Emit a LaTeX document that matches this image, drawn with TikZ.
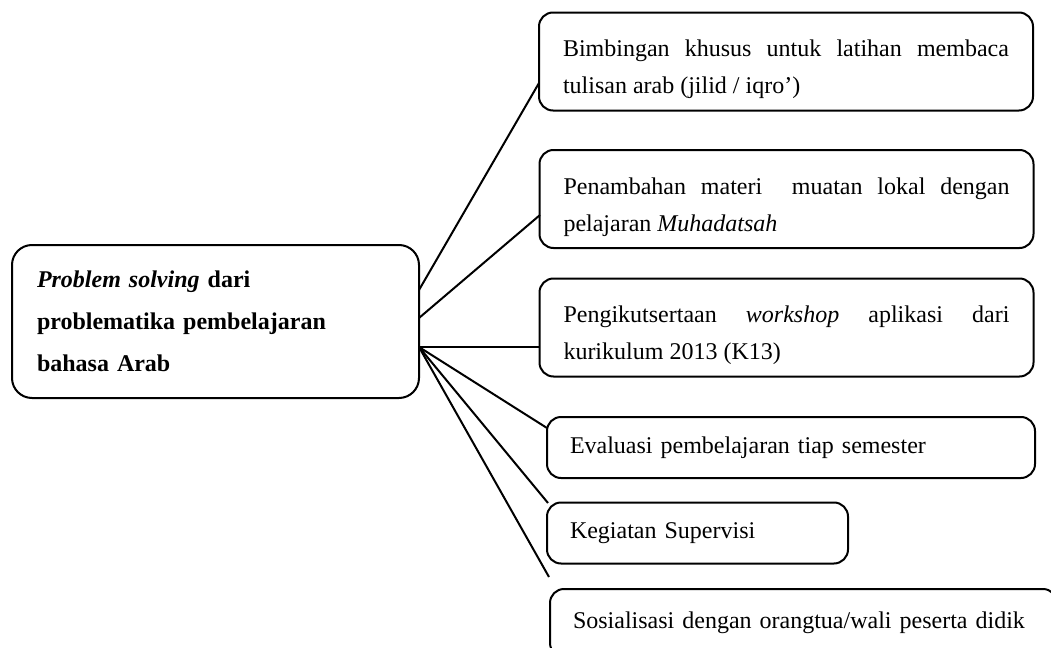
\documentclass[tikz,border=0pt]{standalone}
\usepackage{fontspec}
\setmainfont{Liberation Serif}
\hyphenpenalty=10000
\exhyphenpenalty=10000

\begin{document}
\begin{tikzpicture}[-,x=0.5pt,y=-0.5pt,
  point/.style={coordinate},
  root/.style={draw, line width=1pt, rounded corners=10pt, rectangle, minimum width=203.5pt, minimum height=76.5pt, text width=178.5pt, align=left, font=\fontsize{12}{21}\selectfont\bfseries},
  block/.style={draw, line width=1pt, rounded corners=7pt, rectangle, minimum width=247pt, minimum height=49pt, text width=223pt, align=justify, font=\fontsize{12}{18.5}\selectfont, execute at begin node={\rule{0pt}{16.5pt}}},
  short/.style={draw, line width=1pt, rounded corners=7pt, rectangle, minimum height=30.5pt, align=left, font=\fontsize{12}{18.5}\selectfont},
  every path/.style={line width=1pt}]
\useasboundingbox (0,0) rectangle (1051,648);
\node[root] (0) at (215.5,321.5) {\textit{Problem solving} dari\\problematika pembelajaran\\bahasa Arab};
\node[block] (1) at (786,61.5) {Bimbingan khusus untuk latihan membaca tulisan arab (jilid / iqro’)};
\node[block] (2) at (786.5,199) {Penambahan materi~ muatan lokal dengan pelajaran \textit{Muhadatsah}};
\node[block] (3) at (786.5,327.5) {Pengikutsertaan \textit{workshop} aplikasi dari kurikulum 2013 (K13)};
\node[short, minimum width=244pt, text width=221pt] (4) at (791,447.5) {Evaluasi pembelajaran tiap semester};
\node[short, minimum width=150.5pt, text width=127.5pt] (5) at (697.5,533) {Kegiatan Supervisi};
\node[short, minimum width=253.5pt, minimum height=34pt, text width=230.5pt, anchor=north west] (6) at (549,588) {Sosialisasi dengan orangtua/wali peserta didik};
\node[point] (7) at (419,290) {};
\node[point] (8) at (419,318) {};
\node[point] (9) at (419,347) {};
\node[point] (10) at (539,83) {};
\node[point] (11) at (540,215) {};
\node[point] (12) at (540,347) {};
\node[point] (13) at (547,428) {};
\node[point] (14) at (548,503) {};
\node[point] (15) at (549,577) {};
\draw   (7) -- (10);
\draw   (8) -- (11);
\draw   (9) -- (12);
\draw   (9) -- (13);
\draw   (9) -- (14);
\draw   (9) -- (15);
\end{tikzpicture}
\end{document}
